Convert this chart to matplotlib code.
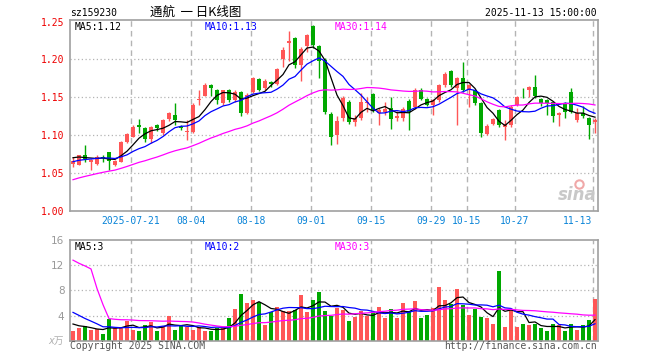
import numpy as np
import pandas as pd
import matplotlib
matplotlib.use('Agg')
import matplotlib.pyplot as plt
from matplotlib.lines import Line2D
from matplotlib.transforms import blended_transform_factory

# daily K line, 88 trading days 2025-07-07 .. 2025-11-13
opens = [1.062, 1.061, 1.073, 1.065, 1.062, 1.071, 1.077, 1.061, 1.065, 1.091,
         1.098, 1.113, 1.109, 1.095, 1.113, 1.103, 1.121, 1.126, 1.111, 1.104,
         1.104, 1.146, 1.152, 1.166, 1.159, 1.142, 1.159, 1.146, 1.157, 1.129,
         1.157, 1.174, 1.162, 1.170, 1.168, 1.200, 1.221, 1.228, 1.192, 1.218,
         1.244, 1.218, 1.199, 1.128, 1.100, 1.122, 1.143, 1.117, 1.122, 1.142,
         1.154, 1.129, 1.131, 1.136, 1.122, 1.122, 1.145, 1.137, 1.160, 1.147,
         1.140, 1.146, 1.166, 1.184, 1.162, 1.175, 1.159, 1.159, 1.142, 1.102,
         1.115, 1.133, 1.111, 1.113, 1.140, 1.152, 1.160, 1.164, 1.147, 1.146,
         1.143, 1.126, 1.142, 1.157, 1.120, 1.129, 1.122, 1.117]
closes = [1.066, 1.073, 1.068, 1.067, 1.071, 1.069, 1.066, 1.066, 1.091, 1.101,
          1.111, 1.110, 1.095, 1.111, 1.109, 1.120, 1.129, 1.120, 1.109, 1.105,
          1.140, 1.148, 1.166, 1.162, 1.146, 1.159, 1.146, 1.157, 1.129, 1.153,
          1.175, 1.160, 1.172, 1.168, 1.187, 1.213, 1.224, 1.192, 1.214, 1.232,
          1.219, 1.198, 1.131, 1.098, 1.118, 1.149, 1.117, 1.123, 1.143, 1.144,
          1.133, 1.133, 1.135, 1.121, 1.125, 1.135, 1.131, 1.160, 1.148, 1.140,
          1.146, 1.166, 1.181, 1.166, 1.175, 1.159, 1.166, 1.142, 1.103, 1.112,
          1.121, 1.113, 1.114, 1.137, 1.150, 1.151, 1.163, 1.151, 1.142, 1.142,
          1.125, 1.129, 1.131, 1.131, 1.129, 1.125, 1.113, 1.120]
highs = [1.071, 1.074, 1.087, 1.068, 1.074, 1.073, 1.078, 1.067, 1.092, 1.103,
         1.113, 1.121, 1.110, 1.112, 1.114, 1.121, 1.131, 1.142, 1.113, 1.120,
         1.142, 1.160, 1.169, 1.167, 1.161, 1.160, 1.161, 1.160, 1.158, 1.155,
         1.177, 1.176, 1.174, 1.172, 1.189, 1.216, 1.237, 1.230, 1.216, 1.234,
         1.245, 1.219, 1.202, 1.131, 1.125, 1.152, 1.146, 1.126, 1.155, 1.150,
         1.156, 1.136, 1.143, 1.150, 1.132, 1.137, 1.147, 1.162, 1.162, 1.149,
         1.148, 1.168, 1.183, 1.186, 1.177, 1.196, 1.168, 1.160, 1.144, 1.114,
         1.123, 1.135, 1.120, 1.140, 1.152, 1.162, 1.165, 1.179, 1.149, 1.148,
         1.145, 1.131, 1.144, 1.162, 1.136, 1.139, 1.124, 1.123]
lows = [1.058, 1.060, 1.064, 1.054, 1.060, 1.064, 1.054, 1.059, 1.064, 1.089,
        1.097, 1.103, 1.091, 1.090, 1.105, 1.100, 1.119, 1.113, 1.106, 1.093,
        1.103, 1.140, 1.151, 1.151, 1.141, 1.140, 1.144, 1.144, 1.125, 1.128,
        1.155, 1.158, 1.160, 1.164, 1.166, 1.190, 1.198, 1.188, 1.172, 1.210,
        1.215, 1.175, 1.128, 1.087, 1.088, 1.118, 1.114, 1.112, 1.120, 1.131,
        1.130, 1.113, 1.127, 1.108, 1.118, 1.118, 1.106, 1.135, 1.146, 1.138,
        1.126, 1.144, 1.164, 1.164, 1.113, 1.157, 1.137, 1.140, 1.098, 1.100,
        1.113, 1.111, 1.093, 1.111, 1.138, 1.149, 1.150, 1.149, 1.139, 1.126,
        1.117, 1.112, 1.122, 1.129, 1.117, 1.123, 1.095, 1.103]
# volume in 万
volumes = [1.5, 2.0, 2.3, 1.7, 1.8, 1.06, 3.4, 2.0, 2.0, 3.2,
           1.75, 1.5, 2.5, 2.9, 1.5, 2.4, 3.9, 1.7, 2.5, 2.2,
           1.7, 2.2, 1.5, 1.5, 2.0, 2.0, 3.6, 5.0, 7.4, 6.0,
           6.5, 6.1, 2.5, 4.5, 5.35, 4.7, 4.7, 4.8, 7.3, 4.5,
           6.5, 7.7, 4.7, 4.0, 5.2, 4.9, 3.1, 3.8, 4.7, 4.0,
           4.5, 5.35, 3.6, 5.0, 3.6, 6.0, 4.7, 6.3, 3.6, 4.1,
           5.2, 8.5, 6.5, 5.8, 8.2, 5.7, 4.1, 5.0, 3.8, 3.6,
           2.65, 11.1, 2.2, 4.9, 2.2, 2.65, 2.5, 2.65, 2.0, 1.5,
           2.65, 2.5, 1.5, 2.65, 1.7, 2.5, 3.3, 6.6]

# earlier sessions (off chart), only feed the moving averages
prior_closes = [1.002, 1.008, 1.012, 1.015, 1.018, 1.020, 1.024, 1.022, 1.026, 1.030,
                1.028, 1.032, 1.035, 1.038, 1.036, 1.040, 1.045, 1.048, 1.050, 1.052,
                1.055, 1.058, 1.060, 1.062, 1.063, 1.068, 1.072, 1.070, 1.074]
prior_volumes = [17, 15, 16, 95, 78, 70,
                 5.2, 4.1, 3.6, 3.0, 3.8, 2.9, 3.3, 2.7, 3.5, 3.1, 2.8, 3.4, 3.0, 3.6,
                 6.8, 7.2, 5.9, 6.1, 5.75, 3.4, 2.9, 2.6, 2.85]

date_pos = [10, 20, 30, 40, 50, 60, 66, 74, 87]
date_labels = ['2025-07-21', '08-04', '08-18', '09-01', '09-15',
               '09-29', '10-15', '10-27', '11-13']
price_ticks = [1.00, 1.05, 1.10, 1.15, 1.20, 1.25]
vol_ticks = [4, 8, 12, 16]
price_ma_text = ['1.12', '1.13', '1.14']
vol_ma_text = ['3', '2', '3']

RED = '#ff5656'
GREEN = '#00a800'
GRID = '#b4b4b4'
FRAME = '#a0a0a0'
MONO = 'DejaVu Sans Mono'
ma_colors = ['black', '#0000ff', '#ff00ff']
windows = [5, 10, 30]

n = len(closes)
x = np.arange(n)
o = np.array(opens)
c = np.array(closes)
up = c >= o
cols = [RED if u else GREEN for u in up]

all_c = pd.Series(prior_closes + closes)
all_v = pd.Series(prior_volumes + volumes)
k = len(prior_closes)

W, H = 660, 360
fig = plt.figure(figsize=(6.6, 3.6), dpi=100)


def fx(px):
    return px / W


def fy(py):
    return 1 - py / H


ax = fig.add_axes([fx(70), fy(210.7), 528 / W, 190.7 / H])
axv = fig.add_axes([fx(70), fy(340.7), 528 / W, 100.7 / H])

for a in (ax, axv):
    a.set_xlim(-0.5, n - 0.5)
    for s in a.spines.values():
        s.set_color(FRAME)
        s.set_linewidth(1.2)
    a.set_xticks([])
    a.tick_params(axis='y', length=0, pad=4)
    for p in date_pos:
        a.axvline(p - 0.4, color=GRID, ls=(0, (4, 3)), lw=1, zorder=0)

ax.set_ylim(1.0, 1.252)
for yv in price_ticks[1:-1]:
    ax.axhline(yv, color=GRID, ls=(0, (1, 2)), lw=0.9, zorder=0)
axv.set_ylim(0, 16)
for yv in vol_ticks[:-1]:
    axv.axhline(yv, color=GRID, ls=(0, (1, 2)), lw=0.9, zorder=0)

# candles
ax.vlines(x, lows, highs, colors=cols, lw=1, zorder=2)
body_h = np.maximum(np.abs(c - o), 0.0012)
ax.bar(x, body_h, bottom=np.minimum(o, c), width=0.8, color=cols, lw=0, zorder=3)

for w, col in zip(windows, ma_colors):
    ma = all_c.rolling(w).mean().values[k:]
    ax.plot(x, ma, color=col, lw=0.9, zorder=4)

axv.bar(x, volumes, width=0.8, color=cols, lw=0, zorder=2)
for w, col in zip(windows, ma_colors):
    ma = all_v.rolling(w).mean().values[k:]
    axv.plot(x, ma, color=col, lw=0.9, zorder=4)

# tick labels
ax.set_yticks(price_ticks)
ax.set_yticklabels([f'{v:.2f}' for v in price_ticks], color='#ee0000',
                   fontfamily=MONO, fontsize=7)
axv.set_yticks(vol_ticks)
axv.set_yticklabels([str(v) for v in vol_ticks], color='#999999', fontsize=7.5)

tr = blended_transform_factory(ax.transData, ax.transAxes)
for p, lab in zip(date_pos, date_labels):
    ha = 'right' if p == n - 1 else 'center'
    ax.text(p - 0.4, -0.053, lab, transform=tr, ha=ha, va='center',
            color='#0a84d8', fontfamily=MONO, fontsize=7)

# MA legends
for px_, (w, col, t) in zip([75, 205, 335], zip(windows, ma_colors, price_ma_text)):
    fig.text(fx(px_), fy(26.5), f'MA{w}:{t}', color=col, fontfamily=MONO,
             fontsize=7, va='center')
for px_, (w, col, t) in zip([75, 205, 335], zip(windows, ma_colors, vol_ma_text)):
    fig.text(fx(px_), fy(246.5), f'MA{w}:{t}', color=col, fontfamily=MONO,
             fontsize=7, va='center')

# header / footer
fig.text(fx(70), fy(12.7), 'sz159230', fontfamily=MONO, fontsize=7, va='center')
fig.text(fx(150), fy(12.7), '通航  一 日K线图', fontsize=9, va='center',
         family=['Noto Sans CJK SC', 'DejaVu Sans'])
fig.text(fx(597), fy(12.7), '2025-11-13 15:00:00', fontfamily=MONO, fontsize=7,
         va='center', ha='right')
fig.text(fx(64), fy(341), 'x万', fontsize=7, va='center', ha='right',
         color='#b0b0b0', style='italic', family=['DejaVu Sans', 'Noto Sans CJK SC'])
fig.text(fx(70), fy(346), 'Copyright 2025 SINA.COM', fontfamily=MONO, fontsize=7,
         va='center', color='#555555')
fig.text(fx(597), fy(346), 'http://finance.sina.com.cn', fontfamily=MONO,
         fontsize=7, va='center', ha='right', color='#555555')

# sina watermark
fig.text(fx(597), fy(195), 'sina', fontsize=12, style='italic', weight='bold',
         color='#c8c8c8', ha='right', va='center')
fig.add_artist(Line2D([fx(579)], [fy(184)], marker='o', markersize=6, mfc='none',
                      mec='#f0a8a8', mew=1.5, transform=fig.transFigure))

fig.savefig('out.png', dpi=100)
